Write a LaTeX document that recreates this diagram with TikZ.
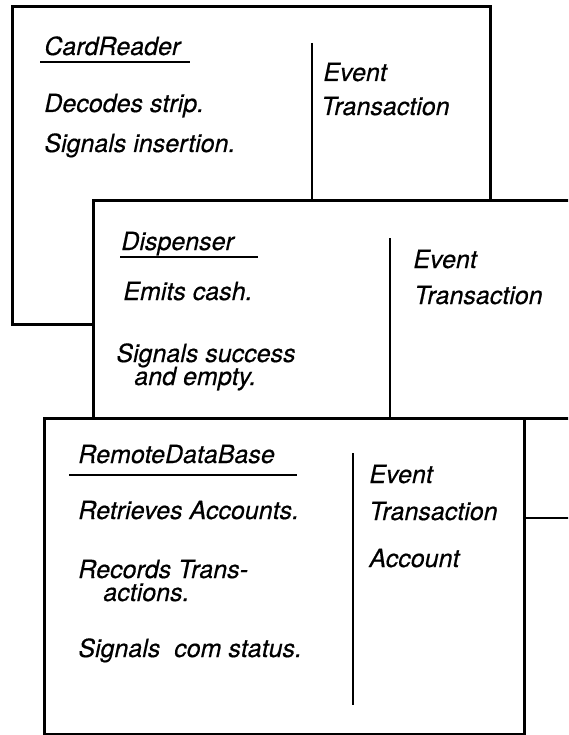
\documentclass[tikz,border=0pt]{standalone}
\usepackage{fontspec}
\newfontfamily\cardfont{TeX Gyre Heros}[FakeSlant=0.21, FakeBold=0.5]
\begin{document}
\begin{tikzpicture}[x=1pt,y=-1pt,
  card/.style={draw, line width=3.2pt, fill=white, rectangle, inner sep=0pt, anchor=north west},
  txt/.style={anchor=base west, inner sep=0pt, font=\fontsize{25}{30}\cardfont},
  rule/.style={line width=2.8pt}]
\useasboundingbox (0,0) rectangle (568,735);
\clip (0,0) rectangle (568,735);

% Card 1: CardReader
\node[card, minimum width=478pt, minimum height=318pt] (c1) at (11,5) {};
\node[txt] (c1name) at (43,55) {CardReader};
\draw[rule] (40,62) -- (190,62);
\node[txt] (c1r1) at (43,112) {Decodes strip.};
\node[txt] (c1r2) at (43,152) {Signals insertion.};
\draw[rule] (312,43) -- (312,199);
\node[txt] (c1k1) at (322,81) {Event};
\node[txt] (c1k2) at (320,115) {Transaction};

% Card 2: Dispenser
\node[card, minimum width=520pt, minimum height=218pt] (c2) at (92,199) {};
\node[txt] (c2name) at (120,250) {Dispenser};
\draw[rule] (120,257) -- (258,257);
\node[txt] (c2r1) at (122,300) {Emits cash.};
\node[txt] (c2r2) at (115,362) {Signals success};
\node[txt] (c2r3) at (133,385) {and empty.};
\draw[rule] (390,238) -- (390,417);
\node[txt] (c2k1) at (412,268) {Event};
\node[txt] (c2k2) at (413,304) {Transaction};

% Card 3: RemoteDataBase
\node[card, minimum width=480pt, minimum height=316pt] (c3) at (43,417) {};
\node[txt] (c3name) at (77,463) {RemoteDataBase};
\draw[rule] (69,475) -- (297,475);
\node[txt] (c3r1) at (77,519) {Retrieves Accounts.};
\node[txt] (c3r2) at (77,578) {Records Trans-};
\node[txt] (c3r3) at (102,601) {actions.};
\node[txt] (c3r4) at (77,657) {Signals\ \ com status.};
\draw[rule] (353,453) -- (353,705);
\node[txt] (c3k1) at (368,483) {Event};
\node[txt] (c3k2) at (368,520) {Transaction};
\node[txt] (c3k3) at (368,567) {Account};

% connector leaving the right edge
\coordinate (rim) at (570,518);
\draw[rule] (c3.east |- rim) -- (rim);
\end{tikzpicture}
\end{document}
